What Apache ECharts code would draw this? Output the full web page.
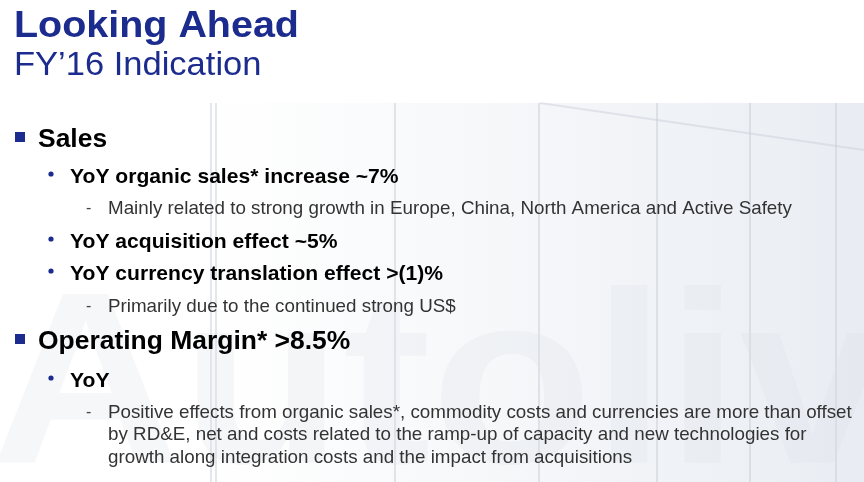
<!DOCTYPE html>
<html>
<head>
<meta charset="utf-8">
<script src="https://cdn.jsdelivr.net/npm/echarts@6/dist/echarts.min.js"></script>
<style>
  html, body { margin: 0; padding: 0; background: #fff; }
  #main { width: 864px; height: 482px; }
</style>
</head>
<body>
<div id="main"></div>
<script>
// slide texts
var title = 'Looking Ahead';
var subtitle = 'FY\u201916 Indication';
// level: 1 = square bullet, 2 = dot bullet, 3 = dash
var levels = [1, 2, 3, 2, 2, 3, 1, 2, 3];
var texts = [
    'Sales',
    'YoY organic sales* increase ~7%',
    'Mainly related to strong growth in Europe, China, North America and Active Safety',
    'YoY acquisition effect ~5%',
    'YoY currency translation effect >(1)%',
    'Primarily due to the continued strong US$',
    'Operating Margin* >8.5%',
    'YoY',
    'Positive effects from organic sales*, commodity costs and currencies are more than offset\nby RD&E, net and costs related to the ramp-up of capacity and new technologies for\ngrowth along integration costs and the impact from acquisitions'
];
var watermark = 'Autoliv';

var chart = echarts.init(document.getElementById('main'));

var font = '"Liberation Sans", Arial, sans-serif';
var blue = '#1c2b8e';
// vertical centre of each line's first row
var rowY = [140, 177, 209, 242, 274, 307, 342, 381, 413];
// the slide text is slightly stretched sideways, hence sx
var style = {
    1: { x: 38, size: 25.2, sx: 1.05, weight: 'bold', color: '#000', lh: 28 },
    2: { x: 70, size: 20.1, sx: 1.05, weight: 'bold', color: '#000', lh: 22 },
    3: { x: 108, size: 17.9, sx: 1.05, weight: 'normal', color: '#333', lh: 22.5 }
};

var elements = [];

// faint background picture: building glass + watermark
elements.push({
    type: 'rect', z: 0,
    shape: { x: 200, y: 103, width: 664, height: 379 },
    style: { fill: new echarts.graphic.LinearGradient(0, 0, 1, 0, [
        { offset: 0, color: 'rgba(235,238,243,0.0)' },
        { offset: 0.5, color: 'rgba(232,236,242,0.45)' },
        { offset: 1, color: 'rgba(225,230,238,0.75)' }
    ]) }
});
[211, 216, 395, 539, 657, 750, 836].forEach(function (x) {
    elements.push({
        type: 'line', z: 1,
        shape: { x1: x, y1: 103, x2: x, y2: 482 },
        style: { stroke: 'rgba(200,205,215,0.5)', lineWidth: 2 }
    });
});
elements.push({
    type: 'polyline', z: 1,
    shape: { points: [[540, 103], [864, 150]] },
    style: { stroke: 'rgba(200,205,215,0.45)', lineWidth: 2 }
});
elements.push({
    type: 'text', z: 1, x: -10, y: 395, scaleX: 1.08,
    style: {
        text: watermark, x: 0, y: 0, textVerticalAlign: 'middle',
        font: 'bold 245px ' + font, fill: 'rgba(220,223,230,0.26)'
    }
});

function label(text, x, y, size, sx, weight, color, lh) {
    return {
        type: 'text', z: 10, x: x, y: y - lh / 2, scaleX: sx,
        style: {
            text: text, x: 0, y: 0, textVerticalAlign: 'top',
            font: weight + ' ' + size + 'px ' + font,
            lineHeight: lh, fill: color
        }
    };
}

elements.push(label(title, 14, 26.5, 37.6, 1.05, 'bold', blue, 40));
elements.push(label(subtitle, 14, 65.5, 33.5, 1.03, 'normal', blue, 38));

texts.forEach(function (t, i) {
    var lv = levels[i], s = style[lv], y = rowY[i];
    if (lv === 1) {
        elements.push({ type: 'rect', z: 10,
            shape: { x: 15, y: y - 8, width: 10, height: 10 },
            style: { fill: blue } });
    } else if (lv === 2) {
        elements.push({ type: 'circle', z: 10,
            shape: { cx: 51, cy: y - 3, r: 2.6 },
            style: { fill: blue } });
    } else {
        elements.push({ type: 'text', z: 10,
            style: { text: '-', x: 86, y: y, textVerticalAlign: 'middle',
                font: 'normal 16px ' + font, fill: '#444' } });
    }
    elements.push(label(t, s.x, y, s.size, s.sx, s.weight, s.color, s.lh));
});

chart.setOption({
    backgroundColor: '#fff',
    animation: false,
    graphic: { elements: elements }
});
</script>
</body>
</html>
